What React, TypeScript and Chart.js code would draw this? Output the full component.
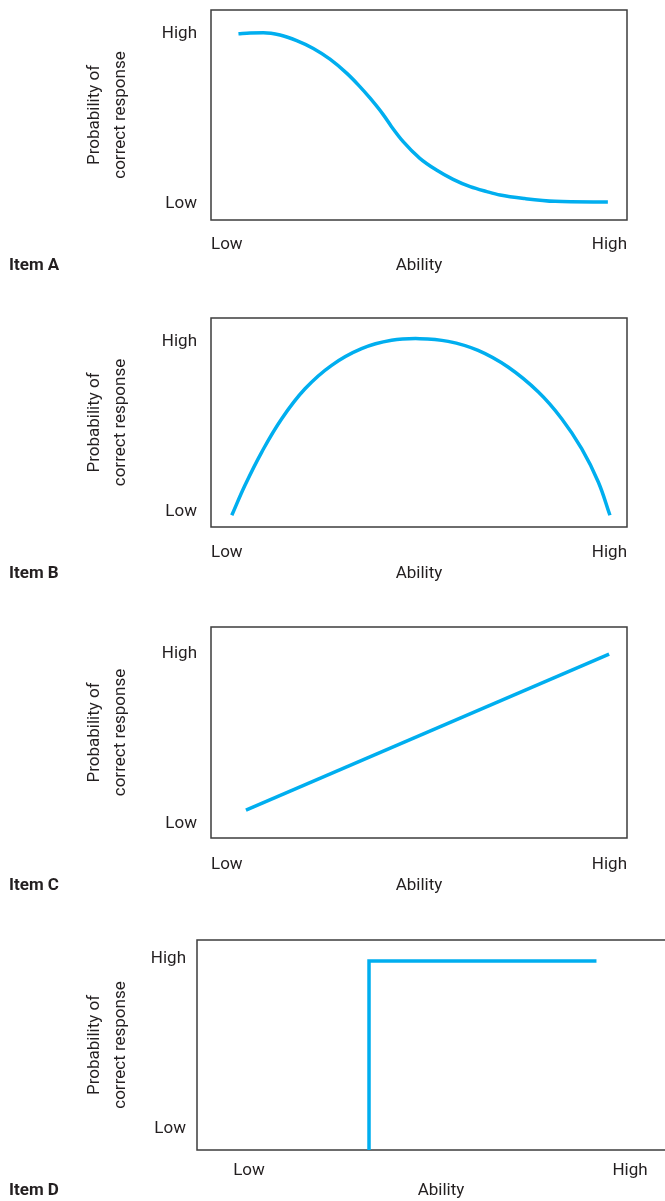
import React, { useEffect, useRef } from 'react';
import { Chart, registerables } from 'chart.js';

Chart.register(...registerables);

// ---------------- data ----------------
const tickValues = [0, 1];
const tickLabels = ['Low', 'High'];
const xAxisTitle = 'Ability';
const yAxisTitle = ['Probability of', 'correct response'];
const itemNames = ['Item A', 'Item B', 'Item C', 'Item D'];

const itemAAbility = [0.066, 0.094, 0.126, 0.166, 0.206, 0.246, 0.286, 0.326, 0.354, 0.382, 0.414, 0.434, 0.462, 0.502, 0.542, 0.582, 0.623, 0.663, 0.695, 0.755, 0.827, 0.954];
const itemAProb = [0.99, 0.994, 0.996, 0.982, 0.949, 0.903, 0.84, 0.758, 0.689, 0.612, 0.514, 0.443, 0.355, 0.257, 0.188, 0.133, 0.09, 0.061, 0.041, 0.02, 0.004, 0.0];

const itemBAbility = [0.05, 0.082, 0.122, 0.17, 0.226, 0.29, 0.362, 0.434, 0.502, 0.57, 0.642, 0.714, 0.787, 0.843, 0.891, 0.931, 0.959];
const itemBProb = [-0.031, 0.147, 0.341, 0.537, 0.713, 0.851, 0.949, 0.998, 1.008, 0.992, 0.939, 0.841, 0.694, 0.537, 0.361, 0.165, -0.031];

const itemCAbility = [0.084, 0.957];
const itemCProb = [0.07, 0.988];

const itemDAbility = [0.315, 0.315, 0.912];
const itemDProb = [-0.14, 0.976, 0.976];

// ---------------- layout ----------------
type PanelLayout = {
  boxLeft: number;
  boxRight: number;
  boxTop: number;
  boxBottom: number;
  highY: number;
  lowY: number;
  lowX: number | null;
  highX: number | null;
  tickDy: number;
  titleDy: number;
  itemY: number;
  yTickPad: number;
  canvasWidth: number;
  interp: 'monotone' | 'tension' | 'straight';
};

const panels: { name: string; xs: number[]; ys: number[]; layout: PanelLayout }[] = [
  {
    name: itemNames[0], xs: itemAAbility, ys: itemAProb,
    layout: { boxLeft: 211, boxRight: 627, boxTop: 10, boxBottom: 220, highY: 32, lowY: 202, lowX: null, highX: null, tickDy: 23, titleDy: 44, itemY: 264, yTickPad: 14, canvasWidth: 665, interp: 'monotone' },
  },
  {
    name: itemNames[1], xs: itemBAbility, ys: itemBProb,
    layout: { boxLeft: 211, boxRight: 627, boxTop: 318, boxBottom: 527, highY: 340, lowY: 510, lowX: null, highX: null, tickDy: 24, titleDy: 45, itemY: 572, yTickPad: 14, canvasWidth: 665, interp: 'tension' },
  },
  {
    name: itemNames[2], xs: itemCAbility, ys: itemCProb,
    layout: { boxLeft: 211, boxRight: 627, boxTop: 627, boxBottom: 838, highY: 652, lowY: 822, lowX: null, highX: null, tickDy: 25, titleDy: 46, itemY: 884, yTickPad: 14, canvasWidth: 665, interp: 'straight' },
  },
  {
    name: itemNames[3], xs: itemDAbility, ys: itemDProb,
    layout: { boxLeft: 197, boxRight: 685, boxTop: 940, boxBottom: 1150, highY: 957, lowY: 1127, lowX: 249, highX: 630, tickDy: 19, titleDy: 39, itemY: 1189, yTickPad: 11, canvasWidth: 700, interp: 'straight' },
  },
];

const FONT = 'Roboto, "Noto Sans", sans-serif';
const TEXT_COLOR = '#231f20';
const LINE_COLOR = '#00aeef';
const X_AXIS_H = 60;
const PAD_TOP = 10;
const TEXT_SHIFT = 2;

const boxPlugin = {
  id: 'boxBorder',
  beforeDatasetsDraw(chart: any) {
    const { ctx, chartArea } = chart;
    const { left, top, right, bottom } = chartArea;
    ctx.save();
    ctx.strokeStyle = '#3d3d3d';
    ctx.lineWidth = 1.5;
    ctx.strokeRect(left, top, right - left, bottom - top);
    ctx.restore();
  },
};

function Panel({ name, xs, ys, layout }: { name: string; xs: number[]; ys: number[]; layout: PanelLayout }) {
  const ref = useRef<HTMLCanvasElement | null>(null);
  const canvasTop = layout.boxTop - PAD_TOP;
  const canvasHeight = layout.boxBottom - layout.boxTop + PAD_TOP + X_AXIS_H;

  useEffect(() => {
    if (!ref.current) return;
    const span = layout.lowY - layout.highY;
    const yMin = -(layout.boxBottom - layout.lowY) / span;
    const yMax = 1 + (layout.highY - layout.boxTop) / span;
    let xMin = 0;
    let xMax = 1;
    let xAlign: any = 'inner';
    if (layout.lowX !== null && layout.highX !== null) {
      const unit = layout.highX - layout.lowX;
      xMin = (layout.boxLeft - layout.lowX) / unit;
      xMax = (layout.boxRight - layout.lowX) / unit;
      xAlign = 'center';
    }
    const tickLH = 17 * 1.2;
    const chart = new Chart(ref.current, {
      type: 'line',
      data: {
        datasets: [
          {
            data: xs.map((x, i) => ({ x, y: ys[i] })),
            borderColor: LINE_COLOR,
            borderWidth: 3.5,
            pointRadius: 0,
            fill: false,
            cubicInterpolationMode: layout.interp === 'monotone' ? 'monotone' : 'default',
            tension: layout.interp === 'tension' ? 0.4 : 0,
            borderCapStyle: 'butt',
            borderJoinStyle: 'miter',
          } as any,
        ],
      },
      options: {
        animation: false,
        responsive: false,
        events: [],
        layout: { padding: { top: PAD_TOP, left: 0, bottom: 0, right: layout.canvasWidth - layout.boxRight } },
        plugins: { legend: { display: false }, tooltip: { enabled: false } },
        scales: {
          x: {
            type: 'linear',
            min: xMin,
            max: xMax,
            grid: { display: false, drawTicks: false },
            border: { display: false },
            afterBuildTicks: (s: any) => { s.ticks = tickValues.map((v) => ({ value: v })); },
            afterFit: (s: any) => { s.height = X_AXIS_H; s.paddingLeft = 0; s.paddingRight = 0; },
            ticks: {
              autoSkip: false,
              maxRotation: 0,
              align: xAlign,
              padding: layout.tickDy - tickLH / 2 + TEXT_SHIFT,
              color: TEXT_COLOR,
              font: { family: FONT, size: 17, lineHeight: 1.2 },
              callback: (v: any) => tickLabels[tickValues.indexOf(Number(v))] ?? '',
            },
            title: {
              display: true,
              text: xAxisTitle,
              color: TEXT_COLOR,
              font: { family: FONT, size: 17, lineHeight: 1.2 },
              padding: { top: 0, bottom: X_AXIS_H - layout.titleDy - tickLH / 2 - TEXT_SHIFT },
            },
          },
          y: {
            type: 'linear',
            min: yMin,
            max: yMax,
            grid: { display: false, drawTicks: false },
            border: { display: false },
            afterBuildTicks: (s: any) => { s.ticks = tickValues.map((v) => ({ value: v })); },
            afterFit: (s: any) => { s.width = layout.boxLeft; s.paddingTop = 0; s.paddingBottom = 0; },
            ticks: {
              autoSkip: false,
              padding: layout.yTickPad,
              labelOffset: TEXT_SHIFT,
              color: TEXT_COLOR,
              font: { family: FONT, size: 17, lineHeight: 1.2 },
              callback: (v: any) => tickLabels[tickValues.indexOf(Number(v))] ?? '',
            },
            title: {
              display: true,
              text: yAxisTitle,
              color: TEXT_COLOR,
              font: { family: FONT, size: 17, lineHeight: 26 / 17 },
              padding: { top: 82, bottom: 0 },
            },
          },
        },
      } as any,
      plugins: [boxPlugin],
    });
    return () => chart.destroy();
  }, []);

  return (
    <>
      <canvas
        ref={ref}
        width={layout.canvasWidth}
        height={canvasHeight}
        style={{ position: 'absolute', left: 0, top: canvasTop, width: layout.canvasWidth, height: canvasHeight }}
      />
      <div
        style={{
          position: 'absolute',
          left: 9,
          top: layout.itemY - 10,
          height: 20,
          lineHeight: '20px',
          fontFamily: FONT,
          fontWeight: 700,
          fontSize: 17,
          color: TEXT_COLOR,
          whiteSpace: 'nowrap',
        }}
      >
        {name}
      </div>
    </>
  );
}

export default function App() {
  return (
    <div
      style={{
        position: 'absolute',
        left: 0,
        top: 0,
        width: 665,
        height: 1201,
        overflow: 'hidden',
        background: '#ffffff',
      }}
    >
      {panels.map((p) => (
        <Panel key={p.name} name={p.name} xs={p.xs} ys={p.ys} layout={p.layout} />
      ))}
    </div>
  );
}
